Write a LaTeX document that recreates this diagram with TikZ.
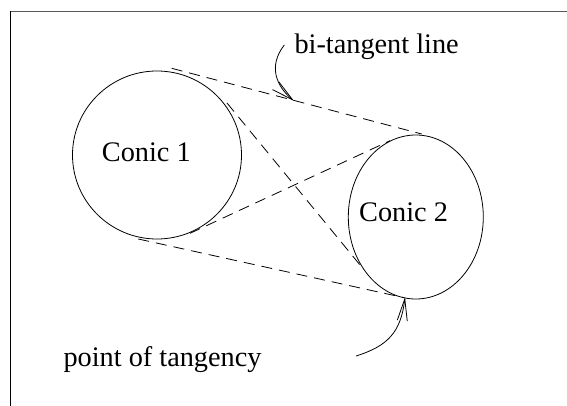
\documentclass[tikz,border=0pt]{standalone}
\usepackage{fontspec}
\setmainfont{Liberation Serif}
\usetikzlibrary{arrows.meta,shapes.geometric}
\begin{document}
\begin{tikzpicture}[x=1pt,y=-1pt,
  conic/.style={draw,ellipse,inner sep=0pt,line width=0.8pt},
  label/.style={anchor=base west,inner sep=0pt,font=\fontsize{28.3}{34}\selectfont},
  tangent/.style={dashed,dash pattern=on 11pt off 7pt,line width=0.8pt},
  pointer/.style={line width=0.8pt,-{Straight Barb[length=22pt,width=10pt,line width=0.8pt]}}]
  \useasboundingbox (0,0) rectangle (567,406);
  % frame
  \draw[line width=1.4pt,black!65] (10,11.5) -- (567,11.5);
  \draw[line width=1.1pt] (10.5,11) -- (10.5,406);
  % the two conics
  \node[conic,minimum width=169pt,minimum height=168pt] (c1) at (157,155) {};
  \node[conic,minimum width=135pt,minimum height=164pt] (c2) at (415.8,217) {};
  \node[label] (t1) at (101.7,161.7) {Conic 1};
  \node[label] (t2) at (359,221) {Conic 2};
  % points of tangency
  \coordinate (a1) at (171.7,68.3);
  \coordinate (a2) at (421.7,134);
  \coordinate (b1) at (138.3,239);
  \coordinate (b2) at (403.3,297.5);
  \coordinate (x1) at (227,103);
  \coordinate (x2) at (362.5,268);
  \coordinate (y1) at (190,233.3);
  \coordinate (y2) at (390,140.7);
  % bi-tangent lines
  \draw[tangent] (a1) -- (a2);
  \draw[tangent] (b1) -- (b2);
  \draw[tangent] (x1) -- (x2);
  \draw[tangent] (y1) -- (y2);
  % annotations
  \node[label] (bt) at (294.3,53.3) {bi-tangent line};
  \node[label] (pt) at (63.3,366.7) {point of tangency};
  \coordinate (s1) at (284.3,45);
  \coordinate (e1) at (294,101);
  \coordinate (s2) at (356,356);
  \coordinate (e2) at (405,297);
  \draw[pointer] (s1) .. controls (268,66) and (276,86) .. (e1);
  \draw[pointer] (s2) .. controls (388,346) and (401,332) .. (e2);
\end{tikzpicture}
\end{document}
